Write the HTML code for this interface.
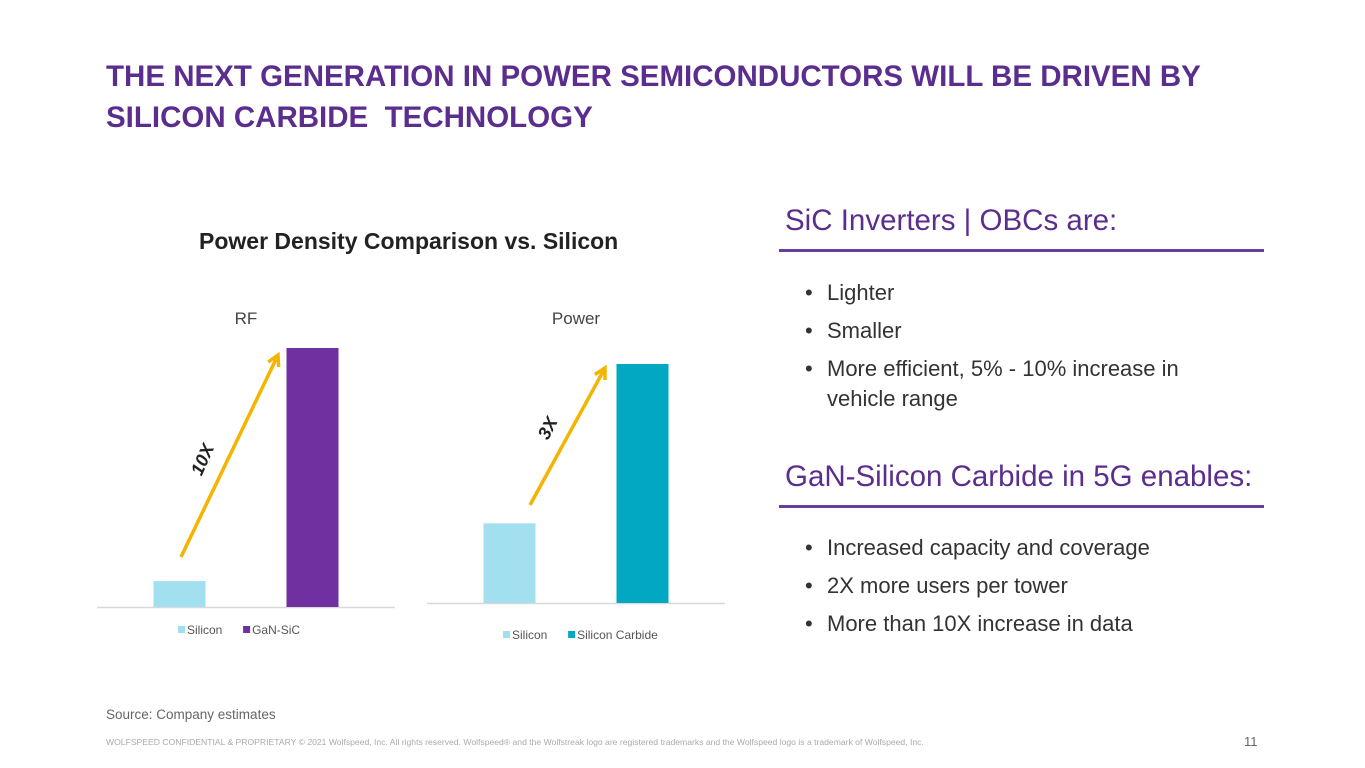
<!DOCTYPE html>
<html><head><meta charset="utf-8"><style>
body{margin:0;width:1365px;height:768px;background:#fff;font-family:"Liberation Sans",sans-serif;position:relative;overflow:hidden}
.a{position:absolute;white-space:nowrap}
.title{left:106px;top:56px;color:#5b2d8e;font-weight:bold;font-size:29.5px;line-height:41px;letter-spacing:0}
.h{color:#5b2d8e;font-size:29.5px;letter-spacing:0}
.rule{position:absolute;height:3px;background:#6a3d9a}
ul{position:absolute;margin:0;padding:0;list-style:none;font-size:22px;color:#333;line-height:38px}
ul li{position:relative;padding-left:22px}
ul li:before{content:"•";position:absolute;left:0}
</style></head><body>
<div class="a title">THE NEXT GENERATION IN POWER SEMICONDUCTORS WILL BE DRIVEN BY<br>SILICON CARBIDE&nbsp; TECHNOLOGY</div>
<div class="a" style="left:199px;top:228px;font-size:23px;font-weight:bold;color:#222">Power Density Comparison vs. Silicon</div>
<svg class="a" style="left:0;top:0" width="1365" height="768" id="chart"></svg>
<div class="a h" style="left:785px;top:204px">SiC Inverters | OBCs are:</div>
<div class="rule" style="left:779px;top:249px;width:485px"></div>
<ul style="left:805px;top:274px">
<li>Lighter</li>
<li>Smaller</li>
<li style="line-height:30px;padding-top:4px;padding-bottom:4px">More efficient, 5% - 10% increase in<br>vehicle range</li>
</ul>
<div class="a h" style="left:785px;top:460px">GaN-Silicon Carbide in 5G enables:</div>
<div class="rule" style="left:779px;top:505px;width:485px"></div>
<ul style="left:805px;top:529px">
<li>Increased capacity and coverage</li>
<li>2X more users per tower</li>
<li>More than 10X increase in data</li>
</ul>
<div class="a" style="left:106px;top:707px;font-size:13.5px;color:#666">Source: Company estimates</div>
<div class="a" style="left:106px;top:737px;font-size:8.6px;color:#aaa">WOLFSPEED CONFIDENTIAL &amp; PROPRIETARY © 2021 Wolfspeed, Inc. All rights reserved. Wolfspeed® and the Wolfstreak logo are registered trademarks and the Wolfspeed logo is a trademark of Wolfspeed, Inc.</div>
<div class="a" style="left:1244px;top:734px;font-size:13px;color:#666">11</div>
<script>
const rfCategories=["Silicon","GaN-SiC"];
const rfValues=[1,10];
const powerCategories=["Silicon","Silicon Carbide"];
const powerValues=[1,3];
const NS="http://www.w3.org/2000/svg";
const svg=document.getElementById('chart');
function mk(t,a){const e=document.createElementNS(NS,t);for(const k in a)e.setAttribute(k,a[k]);svg.appendChild(e);return e;}
function chart(cfg){
  const max=Math.max(...cfg.values);
  const y=v=>cfg.base-v/max*cfg.h;
  const ax=mk('line',{x1:cfg.x0,x2:cfg.x1,y1:cfg.base+0.5,y2:cfg.base+0.5,stroke:'#d9d9d9','stroke-width':1.5});
  
  
  const t=mk('text',{x:(cfg.x0+cfg.x1)/2,y:cfg.labelY,'text-anchor':'middle','font-size':17,fill:'#444'});
  t.textContent=cfg.name==='rf'?'RF':'Power';
  
  
  const mid=(cfg.x0+cfg.x1)/2, step=133;
  cfg.values.forEach((v,i)=>{
    const cx=mid+(i-(cfg.values.length-1)/2)*step;
    const r=mk('rect',{x:cx-26,y:y(v),width:52,height:cfg.base-y(v),fill:cfg.colors[i]});
    
    
  });
  let lx=cfg.legX;
  cfg.cats.forEach((c,i)=>{
    const s=mk('rect',{x:lx,y:cfg.legY-8,width:7,height:7,fill:cfg.colors[i]});
    
    
    const tt=mk('text',{x:lx+9,y:cfg.legY,'font-size':12,fill:'#555'});
    tt.textContent=c;
    
    
    lx+=9+c.length*6.3+12;
  });
}
chart({name:'rf',cats:rfCategories,values:rfValues,x0:97,x1:395,base:607,h:259,labelY:324,colors:['#a2e0f0','#7030a0'],legX:178,legY:634});
chart({name:'power',cats:powerCategories,values:powerValues,x0:427,x1:725,base:603,h:239,labelY:324,colors:['#a2e0f0','#00a9c1'],legX:503,legY:639});
function arrow(x1,y1,x2,y2,name){
  const l=mk('line',{x1,y1,x2,y2,stroke:'#f5b400','stroke-width':3.5});
  
  
  const a=Math.atan2(y2-y1,x2-x1),L=12;
  const p=mk('polyline',{points:`${x2-L*Math.cos(a-0.5)},${y2-L*Math.sin(a-0.5)} ${x2},${y2} ${x2-L*Math.cos(a+0.5)},${y2-L*Math.sin(a+0.5)}`,fill:'none',stroke:'#f5b400','stroke-width':3.5});
  
  
}
arrow(181,557,278,355,'rf-arrow');
arrow(530,505,605,368,'power-arrow');
function lab(x,y,rot,txt,name){
  const t=mk('text',{x,y,transform:`rotate(${rot} ${x} ${y})`,'font-size':18,'font-weight':'bold','font-style':'italic',fill:'#222','text-anchor':'middle'});
  t.textContent=txt;
  
  
}
lab(208,462,-66,'10X','rf-multiplier-label');
lab(553,431,-62,'3X','power-multiplier-label');
</script>
</body></html>
